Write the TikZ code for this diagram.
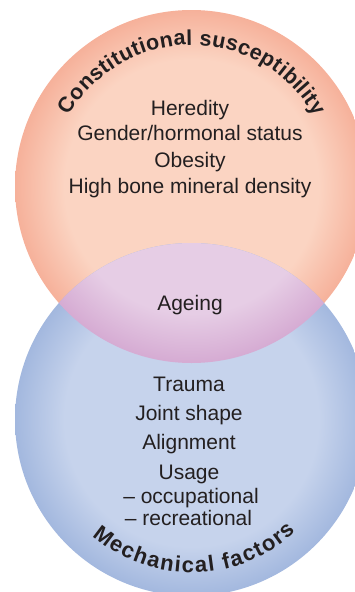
\documentclass[tikz,border=0pt]{standalone}
\usepackage{fontspec}
\setmainfont{Liberation Sans}
\usetikzlibrary{decorations.text,calc}
\definecolor{txt}{HTML}{231F20}
\definecolor{toplt}{HTML}{FBD4C2}
\definecolor{topdk}{HTML}{EF8164}
\definecolor{botlt}{HTML}{C6D3EC}
\definecolor{botdk}{HTML}{7393CC}
\definecolor{lenlt}{HTML}{E6CDE5}
\definecolor{lendk}{HTML}{BF7DBA}
\pgfdeclareradialshading{topshade}{\pgfpoint{0bp}{0bp}}{color(0bp)=(toplt); color(18bp)=(toplt); color(34.5bp)=(topdk); color(50bp)=(topdk)}
\pgfdeclareradialshading{botshade}{\pgfpoint{0bp}{0bp}}{color(0bp)=(botlt); color(18bp)=(botlt); color(34.5bp)=(botdk); color(50bp)=(botdk)}
\pgfdeclareradialshading{lenshade}{\pgfpoint{0bp}{0bp}}{color(0bp)=(lenlt); color(18bp)=(lenlt); color(34.5bp)=(lendk); color(50bp)=(lendk)}
\begin{document}
\begin{tikzpicture}[x=1pt,y=1pt,
  lbl/.style={text=txt, font=\fontsize{21}{25}\selectfont, inner sep=0pt, anchor=base}]
\useasboundingbox (0,0) rectangle (355,-592);
\clip (0,0) rectangle (355,-592);
\coordinate (tc) at (191.5,-186.5);
\coordinate (bc) at (191.5,-419.5);
% circles
\shade[shading=topshade] (tc) circle[radius=176.5];
\shade[shading=botshade] (bc) circle[radius=176.5];
\begin{scope}
  \clip (bc) circle[radius=176.5];
  \shade[shading=lenshade] (tc) circle[radius=176.5];
\end{scope}
% curved titles
\path[decorate, decoration={text along path, text align=fit to path,
  text={|\fontsize{21.5}{25}\selectfont\bfseries\color{txt}|Constitutional susceptibility}}]
  ($(tc)+(150:141.5)$) arc[start angle=150, end angle=29.5, radius=141.5];
\path[decorate, decoration={text along path, text align=fit to path,
  text={|\fontsize{22}{26}\selectfont\bfseries\color{txt}|Mechanical factors}}]
  ($(bc)+(229.5:153)$) arc[start angle=229.5, end angle=313, radius=153];
% top texts
\node[lbl] (heredity) at (190,-115) {Heredity};
\node[lbl] (gender) at (190,-140.5) {Gender/hormonal status};
\node[lbl] (obesity) at (190,-167) {Obesity};
\node[lbl] (bmd) at (190,-193) {High bone mineral density};
% lens
\node[lbl] (ageing) at (190,-310) {Ageing};
% bottom texts
\node[lbl] (trauma) at (189,-391.5) {Trauma};
\node[lbl] (joint) at (189,-420) {Joint shape};
\node[lbl] (align) at (189,-449) {Alignment};
\node[lbl] (usage) at (189,-479) {Usage};
\node[lbl] (occ) at (191,-503) {– occupational};
\node[lbl] (rec) at (188.5,-525) {– recreational};
\end{tikzpicture}
\end{document}
